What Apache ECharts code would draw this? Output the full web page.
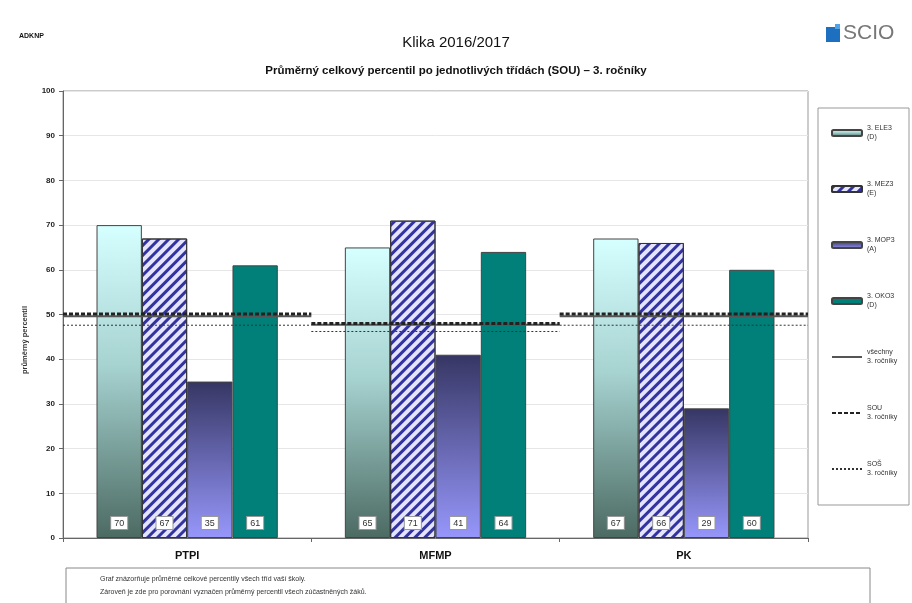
<!DOCTYPE html>
<html>
<head>
<meta charset="utf-8">
<script src="https://cdn.jsdelivr.net/npm/echarts@6/dist/echarts.min.js"></script>
<style>
  html, body { margin: 0; padding: 0; background: #fff; }
  #chart { width: 912px; height: 603px; }
</style>
</head>
<body>
<div id="chart"></div>
<script>
var myChart = echarts.init(document.getElementById('chart'));

// data
var categories = ['PTPI', 'MFMP', 'PK'];
var ele3 = [70, 65, 67];
var mez3 = [67, 71, 66];
var mop3 = [35, 41, 29];
var oko3 = [61, 64, 60];
// reference lines, one value per class group
var vsechny = [49.6, 47.7, 49.6];
var sou = [50.1, 48.0, 50.1];
var sos = [47.6, 46.2, 47.6];
var yTicks = [0, 10, 20, 30, 40, 50, 60, 70, 80, 90, 100];

// each group line goes across its whole category
function segments(vals) {
  var out = [];
  for (var i = 0; i < vals.length; i++) {
    out.push([i, vals[i]]);
    out.push([i + 1, vals[i]]);
    if (i < vals.length - 1) out.push([i + 1, '-']);
  }
  return out;
}

var font = 'Liberation Sans, Arial, sans-serif';

var valLabel = {
  show: true,
  position: 'insideBottom',
  distance: 9,
  backgroundColor: '#fff',
  borderColor: '#999',
  borderWidth: 1,
  padding: [2, 3, 1, 3],
  color: '#333',
  fontSize: 9,
  fontFamily: font
};

// hide the symbol in the legend line icons, keep the line
var noSymbol = { opacity: 0 };

option = {
  backgroundColor: '#fff',
  textStyle: { fontFamily: font },
  title: [
    {
      text: 'Klika 2016/2017',
      left: 'center',
      top: 30,
      textStyle: { fontSize: 15, fontWeight: 'normal', color: '#111' }
    },
    {
      text: 'Průměrný celkový percentil po jednotlivých třídách (SOU) – 3. ročníky',
      left: 'center',
      top: 60,
      textStyle: { fontSize: 11.5, fontWeight: 'bold', color: '#111' }
    },
    {
      text: 'ADKNP',
      left: 14,
      top: 28,
      textStyle: { fontSize: 7, fontWeight: 'bold', color: '#111' }
    }
  ],
  legend: {
    orient: 'vertical',
    left: 826,
    top: 119,
    itemWidth: 30,
    itemHeight: 6,
    itemGap: 38,
    textStyle: { fontSize: 7, color: '#333', lineHeight: 9 },
    data: [
      { name: '3. ELE3\n(D)' },
      { name: '3. MEZ3\n(E)' },
      { name: '3. MOP3\n(A)' },
      { name: '3. OKO3\n(D)' },
      { name: 'všechny\n3. ročníky', itemStyle: noSymbol },
      { name: 'SOU\n3. ročníky', itemStyle: noSymbol },
      { name: 'SOŠ\n3. ročníky', itemStyle: noSymbol }
    ]
  },
  grid: {
    left: 63,
    right: 104,
    top: 91,
    bottom: 65,
    show: true,
    borderColor: '#999',
    borderWidth: 1
  },
  xAxis: [
    {
      type: 'category',
      data: categories,
      axisLine: { lineStyle: { color: '#666' } },
      axisTick: { show: true, length: 4, lineStyle: { color: '#666' } },
      axisLabel: { fontSize: 11, fontWeight: 'bold', color: '#111', margin: 12 }
    },
    {
      type: 'value',
      min: 0,
      max: 3,
      show: false
    }
  ],
  yAxis: {
    type: 'value',
    min: yTicks[0],
    max: yTicks[yTicks.length - 1],
    interval: 10,
    axisLine: { show: true, lineStyle: { color: '#666' } },
    axisTick: { show: true, length: 4, inside: false, lineStyle: { color: '#666' } },
    axisLabel: { fontSize: 8, fontWeight: 'bold', color: '#222', margin: 8 },
    splitLine: { lineStyle: { color: '#e6e6e6' } }
  },
  series: [
    {
      name: '3. ELE3\n(D)',
      type: 'bar',
      data: ele3,
      barGap: '0%',
      barCategoryGap: '27%',
      itemStyle: {
        color: new echarts.graphic.LinearGradient(0, 0, 0, 1, [
          { offset: 0, color: '#d6ffff' },
          { offset: 0.45, color: '#a6d2d0' },
          { offset: 1, color: '#4b6a62' }
        ]),
        borderColor: '#444',
        borderWidth: 1
      },
      label: valLabel
    },
    {
      name: '3. MEZ3\n(E)',
      type: 'bar',
      data: mez3,
      itemStyle: {
        color: '#e4e4ff',
        borderColor: '#333',
        borderWidth: 1,
        decal: {
          symbol: 'rect',
          symbolSize: 1,
          dashArrayX: [[1, 0]],
          dashArrayY: [3, 4],
          rotation: -Math.PI / 4,
          color: '#3333a0'
        }
      },
      label: valLabel
    },
    {
      name: '3. MOP3\n(A)',
      type: 'bar',
      data: mop3,
      itemStyle: {
        color: new echarts.graphic.LinearGradient(0, 0, 0, 1, [
          { offset: 0, color: '#363664' },
          { offset: 1, color: '#9797fc' }
        ]),
        borderColor: '#444',
        borderWidth: 1
      },
      label: valLabel
    },
    {
      name: '3. OKO3\n(D)',
      type: 'bar',
      data: oko3,
      itemStyle: { color: '#008078', borderColor: '#444', borderWidth: 1 },
      label: valLabel
    },
    {
      name: 'všechny\n3. ročníky',
      type: 'line',
      xAxisIndex: 1,
      data: segments(vsechny),
      symbol: 'none',
      connectNulls: false,
      lineStyle: { color: '#555', width: 2, type: 'solid' },
      itemStyle: { color: '#555' },
      z: 5
    },
    {
      name: 'SOU\n3. ročníky',
      type: 'line',
      xAxisIndex: 1,
      data: segments(sou),
      symbol: 'none',
      connectNulls: false,
      lineStyle: { color: '#222', width: 3, type: [4, 2] },
      itemStyle: { color: '#222' },
      z: 6
    },
    {
      name: 'SOŠ\n3. ročníky',
      type: 'line',
      xAxisIndex: 1,
      data: segments(sos),
      symbol: 'none',
      connectNulls: false,
      lineStyle: { color: '#333', width: 1, type: [2, 2] },
      itemStyle: { color: '#333' },
      z: 6
    }
  ],
  graphic: [
    // y axis title
    {
      type: 'text',
      x: 25,
      y: 340,
      rotation: Math.PI / 2,
      style: {
        text: 'průměrný percentil',
        fontSize: 7.5,
        fontWeight: 'bold',
        fill: '#333',
        align: 'center',
        verticalAlign: 'middle',
        fontFamily: font
      }
    },
    // legend frame
    {
      type: 'rect',
      shape: { x: 818, y: 108, width: 91, height: 397 },
      style: { fill: 'none', stroke: '#999', lineWidth: 1 },
      silent: true
    },
    // SCIO logo
    {
      type: 'rect',
      shape: { x: 826, y: 27, width: 14, height: 15 },
      style: { fill: '#1d6fc0' },
      silent: true
    },
    {
      type: 'rect',
      shape: { x: 835, y: 24, width: 5, height: 5 },
      style: { fill: '#4fa3e8' },
      silent: true
    },
    {
      type: 'text',
      left: 843,
      top: 23,
      style: { text: 'SCIO', fontSize: 21, fill: '#777', fontFamily: font }
    },
    // note box
    {
      type: 'rect',
      shape: { x: 66, y: 568, width: 804, height: 45 },
      style: { fill: '#fff', stroke: '#888', lineWidth: 1 },
      silent: true
    },
    {
      type: 'text',
      left: 100,
      top: 573,
      style: {
        text: 'Graf znázorňuje průměrné celkové percentily všech tříd vaší školy.\nZároveň je zde pro porovnání vyznačen průměrný percentil všech zúčastněných žáků.',
        fontSize: 7,
        lineHeight: 13,
        fill: '#333',
        fontFamily: font
      }
    }
  ]
};

myChart.setOption(option);
</script>
</body>
</html>
